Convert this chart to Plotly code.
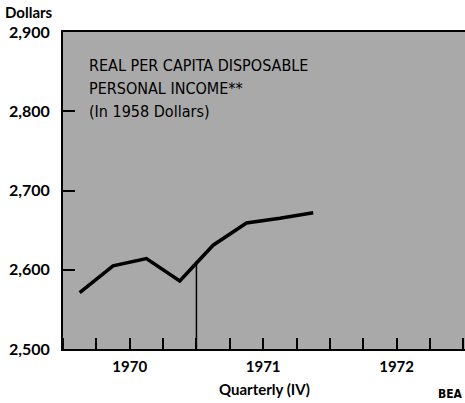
import plotly.graph_objects as go

# Data
quarters = ["1970 I", "1970 II", "1970 III", "1970 IV",
            "1971 I", "1971 II", "1971 III", "1971 IV"]
quarter_pos = [0.5, 1.5, 2.5, 3.5, 4.5, 5.5, 6.5, 7.5]
income = [2571, 2605, 2614, 2586, 2631, 2659, 2665, 2672]

year_labels = ["1970", "1971", "1972"]
year_pos = [2, 6, 10]
y_ticks = [2500, 2600, 2700, 2800, 2900]
marker_x = 4  # boundary line between 1970 and 1971

# value of the line at the boundary, interpolated from the data
i = next(k for k in range(len(quarter_pos) - 1) if quarter_pos[k] <= marker_x <= quarter_pos[k + 1])
t = (marker_x - quarter_pos[i]) / (quarter_pos[i + 1] - quarter_pos[i])
marker_y = income[i] + t * (income[i + 1] - income[i])

LABEL_FONT = "Lato, Open Sans, DejaVu Sans, sans-serif"
COND_FONT = "Liberation Sans Narrow, DejaVu Sans Condensed, Arial Narrow, sans-serif"

fig = go.Figure()
fig.add_trace(go.Scatter(
    x=quarter_pos, y=income, mode="lines",
    line=dict(color="black", width=3.5),
    text=quarters, hoverinfo="text+y", showlegend=False,
))
fig.add_trace(go.Scatter(
    x=[marker_x, marker_x], y=[marker_y, y_ticks[0]], mode="lines",
    line=dict(color="black", width=1.5), hoverinfo="skip", showlegend=False,
))

fig.update_layout(
    width=465, height=403,
    margin=dict(l=63, r=0, t=32, b=54),
    paper_bgcolor="white",
    plot_bgcolor="#a9a9a9",
    showlegend=False,
    xaxis=dict(
        range=[0, 12.05],
        tickvals=year_pos, ticktext=year_labels,
        ticks="", showgrid=False, zeroline=False,
        showline=True, linecolor="black", linewidth=2, mirror=True,
        tickfont=dict(family=LABEL_FONT, size=15, color="black", weight="bold"),
        ticklabelstandoff=3,
        minor=dict(tick0=0, dtick=1, ticks="inside", ticklen=11,
                   tickwidth=2, tickcolor="black", showgrid=False),
    ),
    yaxis=dict(
        range=[2500, 2900],
        tickvals=y_ticks, tickformat=",",
        ticks="inside", ticklen=12, tickwidth=1.5, tickcolor="black",
        showgrid=False, zeroline=False,
        showline=True, linecolor="black", linewidth=2, mirror=False,
        tickfont=dict(family=LABEL_FONT, size=16, color="black", weight="bold"),
        ticklabelstandoff=8,
    ),
)

title_lines = ["REAL PER CAPITA DISPOSABLE", "PERSONAL INCOME**", "(In 1958 Dollars)"]
for k, line in enumerate(title_lines):
    fig.add_annotation(
        xref="paper", yref="paper", x=(87 - 63) / 402, y=1 - (54 - 32 + 23 * k) / 317,
        xanchor="left", yanchor="top", showarrow=False, text=line,
        font=dict(family=COND_FONT, size=16, color="black"),
    )

fig.add_annotation(xref="paper", yref="paper", x=-60 / 402, y=1 + 20 / 317,
                   xanchor="left", yanchor="middle", showarrow=False, text="Dollars",
                   font=dict(family=LABEL_FONT, size=15, color="black", weight="bold"))
fig.add_annotation(xref="paper", yref="paper", x=(264 - 63) / 402, y=-(389 - 349) / 317,
                   xanchor="center", yanchor="middle", showarrow=False, text="Quarterly (IV)",
                   font=dict(family=LABEL_FONT, size=15, color="black", weight="bold"))
fig.add_annotation(xref="paper", yref="paper", x=1.0, y=-(394 - 349) / 317,
                   xanchor="right", yanchor="middle", showarrow=False, text="BEA",
                   font=dict(family=COND_FONT, size=12, color="black", weight="bold"))

fig.write_html(
    "out.html",
    config={"displayModeBar": False},
    post_script="document.body.style.margin='0';document.body.style.overflow='hidden';",
)
